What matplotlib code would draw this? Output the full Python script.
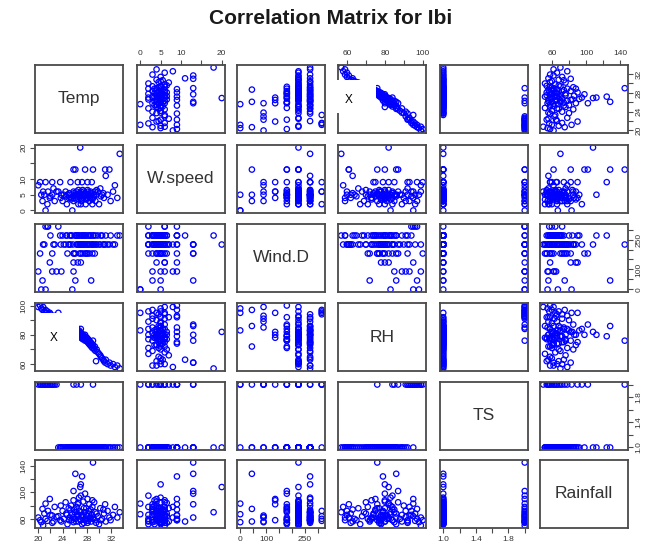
import matplotlib
matplotlib.use("Agg")
import matplotlib.pyplot as plt
from matplotlib.patches import Rectangle

plt.rcParams['font.family'] = ['Liberation Sans', 'DejaVu Sans']

# variables shown in the pairs plot
var_names = ['Temp', 'W.speed', 'Wind.D', 'RH', 'TS', 'Rainfall']

temp = [20.0, 20.3, 20.5, 20.7, 20.8, 21.0, 21.2, 21.2, 21.5, 21.6,
        21.9, 22.3, 22.3, 22.7, 23.0, 25.8, 26.3, 27.0, 29.0, 23.3,
        23.6, 23.7, 23.8, 24.0, 24.2, 24.5, 24.7, 24.8, 25.0, 25.2,
        25.3, 25.5, 25.6, 25.8, 25.8, 26.0, 26.1, 26.1, 26.3, 26.4,
        26.5, 26.6, 26.7, 26.8, 26.9, 27.0, 27.0, 27.1, 27.2, 27.3,
        27.4, 27.5, 27.6, 27.7, 27.8, 27.9, 28.0, 28.1, 28.2, 28.3,
        28.4, 28.5, 28.6, 28.7, 28.8, 28.9, 29.0, 29.2, 29.3, 29.4,
        29.5, 29.8, 30.0, 30.2, 30.5, 30.8, 31.0, 31.1, 31.4, 31.7,
        31.9, 32.3, 32.6, 33.0, 33.4,
        24.6, 25.1, 25.4, 25.7, 25.9, 26.2, 26.4, 26.6, 26.8, 27.0,
        27.2, 27.3, 27.5, 27.7, 27.9, 28.1, 28.3, 28.6, 28.9, 29.1,
        29.6, 30.3, 30.7, 22.0, 22.5]
wspeed = [8, 9, 5, 3, 6, 5, 9, 0, 2, 6,
          4, 9, 5, 3, 6, 13, 5, 2, 13, 6,
          9, 4, 5, 3, 5, 6, 2, 5, 4, 5,
          9, 4, 0, 6, 3, 5, 13, 4, 6, 5,
          9, 2, 5, 4, 20, 6, 5, 3, 9, 5,
          4, 6, 5, 13, 2, 5, 4, 9, 6, 5,
          3, 4, 6, 5, 9, 2, 4, 5, 6, 3,
          5, 6, 2, 7, 5, 4, 13, 11, 5, 13,
          3, 6, 8, 4, 18,
          4.5, 5.5, 3.5, 4.5, 5.5, 3.5, 4.5, 6.5, 5.5, 4.5,
          3.5, 6.5, 4.5, 5.5, 3.5, 6.5, 4.5, 5.5, 3.5, 4.5,
          6.5, 4.5, 5.5, 4.5, 7]
wind_dir = [90, 180, 0, 45, 225, 225, 315, 0, 315, 315,
            135, 90, 180, 225, 90, 180, 270, 225, 225, 315,
            270, 225, 90, 270, 225, 225, 270, 180, 225, 270,
            225, 270, 0, 135, 90, 270, 45, 180, 225, 270,
            135, 225, 270, 180, 225, 135, 270, 225, 270, 180,
            225, 270, 225, 180, 270, 180, 225, 270, 225, 270,
            180, 225, 270, 45, 225, 180, 270, 225, 180, 270,
            225, 270, 225, 225, 270, 225, 225, 270, 225, 225,
            270, 225, 225, 270, 270,
            270, 225, 270, 225, 180, 270, 225, 270, 225, 180,
            225, 270, 225, 270, 225, 180, 225, 270, 225, 270,
            225, 270, 225, 270, 225]
rh = [99, 100, 98, 97, 99, 96, 97, 95, 96, 94,
      95, 93, 92, 93, 91, 87, 85, 84, 76, 95,
      92, 90, 89, 91, 88, 87, 89, 86, 80, 86,
      85, 84, 83, 80, 85, 83, 86, 82, 84, 81,
      82, 80, 83, 79, 82, 78, 80, 81, 79, 77,
      80, 78, 79, 80, 77, 76, 78, 75, 77, 74,
      76, 73, 75, 72, 74, 71, 73, 70, 72, 69,
      62, 68, 67, 66, 64, 62, 61, 63, 60, 61,
      59, 60, 58, 59, 57,
      86, 84, 83, 82, 84, 80, 79, 82, 81, 79,
      78, 80, 77, 76, 78, 77, 75, 74, 73, 71,
      70, 65, 63, 94, 92]
ts = [2, 2, 2, 2, 2, 2, 2, 2, 2, 2,
      2, 2, 2, 2, 2, 2, 2, 2, 2, 1,
      1, 1, 1, 1, 1, 1, 1, 1, 1, 1,
      1, 1, 1, 1, 1, 1, 1, 1, 1, 1,
      1, 1, 1, 1, 1, 1, 1, 1, 1, 1,
      1, 1, 1, 1, 1, 1, 1, 1, 1, 1,
      1, 1, 1, 1, 1, 1, 1, 1, 1, 1,
      1, 1, 1, 1, 1, 1, 1, 1, 1, 1,
      1, 1, 1, 1, 1,
      1, 1, 1, 1, 1, 1, 1, 1, 1, 1,
      1, 1, 1, 1, 1, 1, 1, 1, 1, 1,
      1, 1, 1, 2, 2]
rainfall = [62, 58, 55, 75, 50, 68, 60, 83, 57, 72,
            90, 65, 54, 78, 63, 102, 70, 95, 145, 64,
            58, 80, 56, 72, 60, 85, 66, 52, 76, 62,
            74, 58, 67, 88, 55, 70, 128, 60, 78, 64,
            82, 56, 92, 72, 108, 58, 112, 66, 124, 62,
            86, 54, 70, 98, 60, 76, 64, 90, 57, 68,
            82, 60, 74, 56, 66, 78, 62, 85, 58, 70,
            54, 64, 52, 76, 60, 68, 82, 56, 72, 62,
            58, 66, 78, 62, 70,
            68, 58, 80, 62, 74, 56, 66, 84, 60, 70,
            52, 64, 76, 58, 66, 54, 72, 62, 88, 60,
            68, 58, 74, 66, 56]

data = [temp, wspeed, wind_dir, rh, ts, rainfall]

# axis ticks and the labels R managed to fit
ticks = [
    [20, 22, 24, 26, 28, 30, 32],
    [0, 5, 10, 15, 20],
    [0, 50, 100, 150, 200, 250, 300],
    [60, 70, 80, 90, 100],
    [1.0, 1.2, 1.4, 1.6, 1.8, 2.0],
    [60, 80, 100, 120, 140],
]
tick_labels = [
    ['20', '', '24', '', '28', '', '32'],
    ['0', '5', '10', '', '20'],
    ['0', '', '100', '', '', '250', ''],
    ['60', '', '80', '', '100'],
    ['1.0', '', '1.4', '', '1.8', ''],
    ['60', '', '100', '', '140'],
]

W, H = 653, 553
col_x = [35, 137, 237, 338, 440, 540]
row_y = [65, 145, 224, 303, 382, 460]
pw, ph = 88, 68

text_col = '#333333'
frame_col = '#4a4a4a'
pt_col = '#0000ff'


def lims(v):
    lo, hi = min(v), max(v)
    pad = 0.04 * (hi - lo)
    return lo - pad, hi + pad


fig = plt.figure(figsize=(W / 100, H / 100), dpi=100)
fig.text(331 / W, 1 - 19 / H, 'Correlation Matrix for Ibi', ha='center', va='center',
         fontsize=15, fontweight='bold', color='#1a1a1a')

axes = {}
n = len(var_names)
for i in range(n):
    for j in range(n):
        ax = fig.add_axes([col_x[j] / W, 1 - (row_y[i] + ph) / H, pw / W, ph / H])
        axes[(i, j)] = ax
        for sp in ax.spines.values():
            sp.set_color(frame_col)
            sp.set_linewidth(1.3)
        ax.set_xlim(*lims(data[j]))
        ax.set_ylim(*lims(data[i]))
        ax.tick_params(which='both', bottom=False, top=False, left=False, right=False,
                       labelbottom=False, labeltop=False, labelleft=False, labelright=False,
                       direction='out', length=3.5, width=0.8, color=frame_col,
                       labelsize=6, labelcolor=text_col, pad=2)
        if i == j:
            ax.set_xticks([])
            ax.set_yticks([])
            ax.text(0.5, 0.5, var_names[i], transform=ax.transAxes, ha='center', va='center',
                    fontsize=12.5, color=text_col)
        else:
            ax.scatter(data[j], data[i], s=15, facecolors='none', edgecolors=pt_col,
                       linewidths=0.9)
            ax.set_xticks(ticks[j])
            ax.set_xticklabels(tick_labels[j])
            ax.set_yticks(ticks[i])
            ax.set_yticklabels(tick_labels[i], rotation=90, va='center')

        # outer axes, alternating like R's pairs()
        if i == 0 and j % 2 == 1:
            ax.set_xticks(ticks[j])
            ax.set_xticklabels(tick_labels[j])
            ax.tick_params(axis='x', top=True, labeltop=True)
        if i == n - 1 and j % 2 == 0:
            ax.set_xticks(ticks[j])
            ax.set_xticklabels(tick_labels[j])
            ax.tick_params(axis='x', bottom=True, labelbottom=True)
        if j == 0 and i % 2 == 1:
            ax.set_yticks(ticks[i])
            ax.set_yticklabels(tick_labels[i], rotation=90, va='center')
            ax.tick_params(axis='y', left=True, labelleft=True)
        if j == n - 1 and i % 2 == 0:
            ax.set_yticks(ticks[i])
            ax.set_yticklabels(tick_labels[i], rotation=90, va='center')
            ax.tick_params(axis='y', right=True, labelright=True)

# white boxes with an "X" pasted over the Temp/RH panels
for (i, j), (x0, y0, w, h, tx) in {(0, 3): (-0.03, 0.29, 0.46, 0.49, 0.12),
                                   (3, 0): (0.02, 0.38, 0.48, 0.47, 0.21)}.items():
    ax = axes[(i, j)]
    ax.add_patch(Rectangle((x0, y0), w, h, transform=ax.transAxes, facecolor='white',
                           edgecolor='none', clip_on=False, zorder=5))
    ax.text(tx, 0.48, 'X', transform=ax.transAxes, ha='center', va='center',
            fontsize=8.5, color='black', zorder=6)

fig.savefig('out.png', dpi=100, facecolor='white')
